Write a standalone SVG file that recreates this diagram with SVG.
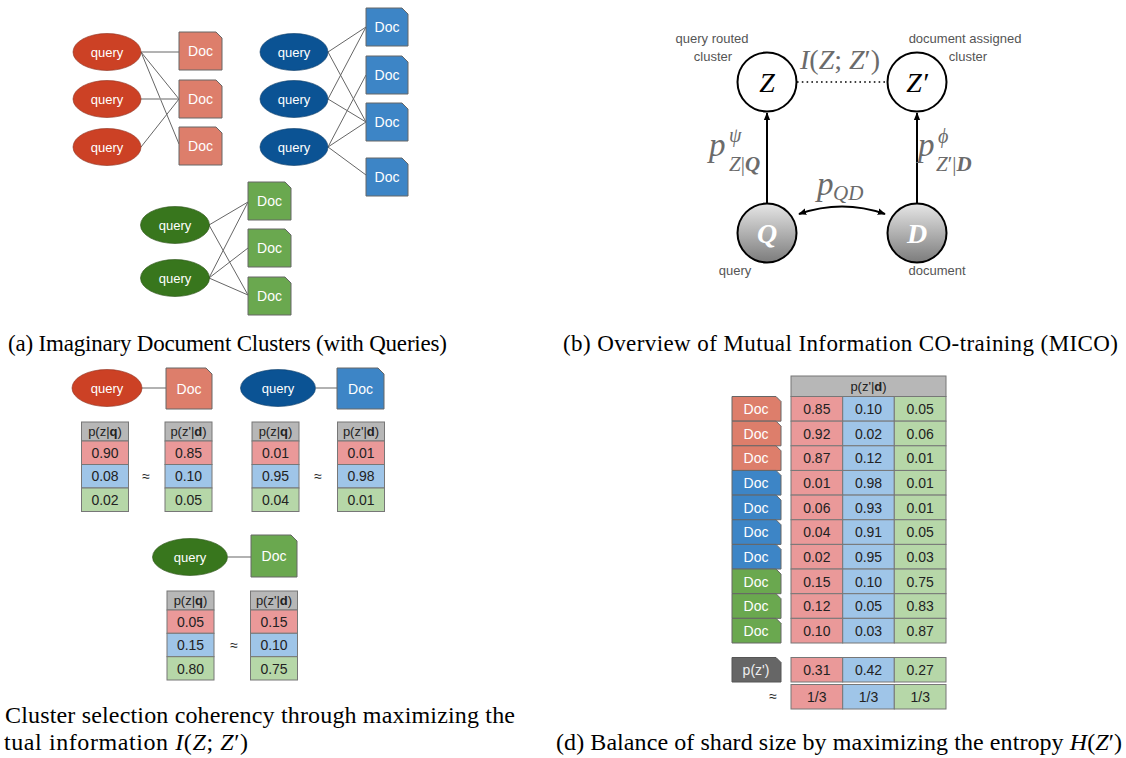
<svg xmlns="http://www.w3.org/2000/svg" width="1126" height="758" viewBox="0 0 1126 758">
<style>
.qt{font-family:"Liberation Sans",Arial,sans-serif;font-size:13px;fill:#fff;text-anchor:middle}
.dt{font-family:"Liberation Sans",Arial,sans-serif;font-size:14px;fill:#fff;text-anchor:middle}
.tv{font-family:"Liberation Sans",Arial,sans-serif;font-size:14px;fill:#222;text-anchor:middle}
.th{font-family:"Liberation Sans",Arial,sans-serif;font-size:13px;fill:#222;text-anchor:middle}
.lb{font-family:"Liberation Sans",Arial,sans-serif;font-size:13px;fill:#555;text-anchor:middle}
.mt{font-family:"Liberation Serif","Times New Roman",serif;fill:#6b6b6b}
.cap{font-family:"Liberation Serif","Times New Roman",serif;font-size:24px;fill:#000}
.rq{fill:#cc4125;stroke:#8a2a18;stroke-width:0.6}
.bq{fill:#0b5394;stroke:#073763;stroke-width:0.6}
.gq{fill:#38761d;stroke:#274e13;stroke-width:0.6}
.rd{fill:#dd7e6b;stroke:#666;stroke-width:1}
.bd{fill:#3d85c6;stroke:#666;stroke-width:1}
.gd{fill:#6aa84f;stroke:#666;stroke-width:1}
.cr{fill:#ea9999;stroke:#777;stroke-width:1}
.cb{fill:#9fc5e8;stroke:#777;stroke-width:1}
.cg{fill:#b6d7a8;stroke:#777;stroke-width:1}
.ch{fill:#b7b7b7;stroke:#777;stroke-width:1}
.ln{stroke:#666;stroke-width:1;fill:none}
.ln2{stroke:#999;stroke-width:1.5;fill:none}
.ax{stroke:#000;stroke-width:2;fill:none}
.it{font-style:italic}
.bi{font-style:italic;font-weight:bold}
</style>
<defs>
<marker id="ah" viewBox="0 0 10 10" refX="9" refY="5" markerWidth="8" markerHeight="8" markerUnits="userSpaceOnUse" orient="auto-start-reverse"><path d="M0,1 L10,5 L0,9 z" fill="#000"/></marker>
<linearGradient id="gr" x1="0" y1="0" x2="0" y2="1"><stop offset="0" stop-color="#e6e6e6"/><stop offset="1" stop-color="#7c7c7c"/></linearGradient>
</defs>

<!-- (a) connectors -->
<g id="connectors-a">
<line class="ln" x1="141" y1="52" x2="179" y2="52"/>
<line class="ln" x1="141" y1="52" x2="179" y2="99"/>
<line class="ln" x1="141" y1="52" x2="179" y2="144"/>
<line class="ln2" x1="141" y1="99" x2="179" y2="99"/>
<line class="ln" x1="141" y1="147" x2="179" y2="99"/>
<line class="ln" x1="328" y1="52" x2="366" y2="27"/>
<line class="ln" x1="328" y1="52" x2="366" y2="122"/>
<line class="ln" x1="328" y1="99" x2="366" y2="27"/>
<line class="ln" x1="328" y1="99" x2="366" y2="122"/>
<line class="ln" x1="328" y1="147" x2="366" y2="75"/>
<line class="ln" x1="328" y1="147" x2="366" y2="122"/>
<line class="ln" x1="328" y1="147" x2="366" y2="175"/>
<line class="ln" x1="209" y1="225" x2="248" y2="202"/>
<line class="ln" x1="209" y1="225" x2="248" y2="295"/>
<line class="ln" x1="209" y1="278" x2="248" y2="202"/>
<line class="ln" x1="209" y1="278" x2="248" y2="248"/>
<line class="ln" x1="209" y1="278" x2="248" y2="295"/>
</g>

<!-- (a) nodes -->
<g id="a-rq1"><ellipse class="rq" cx="107" cy="52" rx="34" ry="18.5"/><text class="qt" x="107" y="56.5">query</text></g>
<g id="a-rq2"><ellipse class="rq" cx="107" cy="99" rx="34" ry="18.5"/><text class="qt" x="107" y="103.5">query</text></g>
<g id="a-rq3"><ellipse class="rq" cx="107" cy="147" rx="34" ry="18.5"/><text class="qt" x="107" y="151.5">query</text></g>
<g id="a-rd1"><path class="rd" d="M179 32 H216 L222 38 V70 H179 Z"/><text class="dt" x="200.5" y="56">Doc</text></g>
<g id="a-rd2"><path class="rd" d="M179 80 H216 L222 86 V118 H179 Z"/><text class="dt" x="200.5" y="104">Doc</text></g>
<g id="a-rd3"><path class="rd" d="M179 127 H216 L222 133 V165 H179 Z"/><text class="dt" x="200.5" y="151">Doc</text></g>

<g id="a-bq1"><ellipse class="bq" cx="294" cy="52" rx="34" ry="18.5"/><text class="qt" x="294" y="56.5">query</text></g>
<g id="a-bq2"><ellipse class="bq" cx="294" cy="99" rx="34" ry="18.5"/><text class="qt" x="294" y="103.5">query</text></g>
<g id="a-bq3"><ellipse class="bq" cx="294" cy="147" rx="34" ry="18.5"/><text class="qt" x="294" y="151.5">query</text></g>
<g id="a-bd1"><path class="bd" d="M366 8 H402 L408 14 V46 H366 Z"/><text class="dt" x="387" y="32">Doc</text></g>
<g id="a-bd2"><path class="bd" d="M366 56 H402 L408 62 V94 H366 Z"/><text class="dt" x="387" y="80">Doc</text></g>
<g id="a-bd3"><path class="bd" d="M366 103 H402 L408 109 V141 H366 Z"/><text class="dt" x="387" y="127">Doc</text></g>
<g id="a-bd4"><path class="bd" d="M366 158 H402 L408 164 V196 H366 Z"/><text class="dt" x="387" y="182">Doc</text></g>

<g id="a-gq1"><ellipse class="gq" cx="175" cy="225" rx="34.5" ry="18.5"/><text class="qt" x="175" y="229.5">query</text></g>
<g id="a-gq2"><ellipse class="gq" cx="175" cy="278" rx="34.5" ry="18.5"/><text class="qt" x="175" y="282.5">query</text></g>
<g id="a-gd1"><path class="gd" d="M248 182 H285 L291 188 V220 H248 Z"/><text class="dt" x="269.5" y="206">Doc</text></g>
<g id="a-gd2"><path class="gd" d="M248 229 H285 L291 235 V267 H248 Z"/><text class="dt" x="269.5" y="253">Doc</text></g>
<g id="a-gd3"><path class="gd" d="M248 277 H285 L291 283 V315 H248 Z"/><text class="dt" x="269.5" y="301">Doc</text></g>

<text class="cap" x="8" y="351" style="font-size:23px" textLength="439" lengthAdjust="spacing">(a) Imaginary Document Clusters (with Queries)</text>

<!-- (b) -->
<g id="connectors-b">
<line x1="797" y1="82" x2="887" y2="82" stroke="#000" stroke-width="1.6" stroke-dasharray="1.6 3.2"/>
<line class="ax" x1="767" y1="203" x2="767" y2="113" marker-end="url(#ah)"/>
<line class="ax" x1="917" y1="203" x2="917" y2="113" marker-end="url(#ah)"/>
<path class="ax" d="M799 214 Q842 199 885 214" marker-start="url(#ah)" marker-end="url(#ah)"/>
</g>
<g id="b-Z"><circle cx="767" cy="82" r="29.5" fill="#fff" stroke="#000" stroke-width="2"/><text x="767" y="92" text-anchor="middle" font-family="Liberation Serif,serif" font-size="28" font-style="italic" fill="#000">Z</text></g>
<g id="b-Zp"><circle cx="917" cy="82" r="29.5" fill="#fff" stroke="#000" stroke-width="2"/><text x="917" y="92" text-anchor="middle" font-family="Liberation Serif,serif" font-size="28" font-style="italic" fill="#000">Z′</text></g>
<g id="b-Q"><circle cx="767" cy="233" r="29.5" fill="url(#gr)" stroke="#000" stroke-width="2"/><text x="767" y="243" text-anchor="middle" font-family="Liberation Serif,serif" font-size="28" font-style="italic" font-weight="bold" fill="#fff">Q</text></g>
<g id="b-D"><circle cx="917" cy="233" r="29.5" fill="url(#gr)" stroke="#000" stroke-width="2"/><text x="917" y="243" text-anchor="middle" font-family="Liberation Serif,serif" font-size="28" font-style="italic" font-weight="bold" fill="#fff">D</text></g>
<g id="b-labels">
<text class="lb" x="712" y="43">query routed</text>
<text class="lb" x="713" y="61">cluster</text>
<text class="lb" x="965" y="43">document assigned</text>
<text class="lb" x="968" y="61">cluster</text>
<text class="lb" x="735" y="275">query</text>
<text class="lb" x="937" y="275">document</text>
<text class="mt" x="800" y="69" font-size="28"><tspan class="it">I</tspan>(<tspan class="it">Z</tspan>; <tspan class="it">Z</tspan>′)</text>
<text class="mt" x="709" y="156" font-size="33"><tspan class="it">p</tspan></text>
<text class="mt" x="729" y="142" font-size="20"><tspan class="it">ψ</tspan></text>
<text class="mt" x="729" y="171" font-size="21"><tspan class="it">Z</tspan>|<tspan class="bi">Q</tspan></text>
<text class="mt" x="918" y="156" font-size="33"><tspan class="it">p</tspan></text>
<text class="mt" x="938" y="143" font-size="20"><tspan class="it">ϕ</tspan></text>
<text class="mt" x="936" y="171" font-size="21"><tspan class="it">Z</tspan>′|<tspan class="bi">D</tspan></text>
<text class="mt" x="817" y="195" font-size="33"><tspan class="it">p</tspan></text>
<text class="mt" x="833" y="200" font-size="21"><tspan class="it">QD</tspan></text>
</g>

<text class="cap" x="563" y="351" style="font-size:23px" textLength="555" lengthAdjust="spacing">(b) Overview of Mutual Information CO-training (MICO)</text>

<!-- (c) -->
<g id="connectors-c">
<line class="ln2" x1="142" y1="388" x2="166" y2="388"/>
<line class="ln2" x1="316" y1="388" x2="337" y2="388"/>
<line class="ln2" x1="228" y1="557" x2="251" y2="557"/>
</g>
<g id="c-rq"><ellipse class="rq" cx="107" cy="388" rx="35" ry="18.5"/><text class="qt" x="107" y="392.5">query</text></g>
<g id="c-rd"><path class="rd" d="M166 368 H206 L212 374 V409 H166 Z"/><text class="dt" x="189" y="393.5">Doc</text></g>
<g id="c-bq"><ellipse class="bq" cx="278" cy="388" rx="37.5" ry="18.5"/><text class="qt" x="278" y="392.5">query</text></g>
<g id="c-bd"><path class="bd" d="M337 368 H378 L384 374 V409 H337 Z"/><text class="dt" x="360.5" y="393.5">Doc</text></g>
<g id="c-gq"><ellipse class="gq" cx="190" cy="557" rx="37.5" ry="18.5"/><text class="qt" x="190" y="561.5">query</text></g>
<g id="c-gd"><path class="gd" d="M251 535 H291 L297 541 V577 H251 Z"/><text class="dt" x="274" y="561">Doc</text></g>

<g id="c-rt1">
<rect class="ch" x="81.5" y="422" width="47" height="19"/><text class="th" x="105" y="436">p(z|<tspan font-weight="bold">q</tspan>)</text>
<rect class="cr" x="81.5" y="441" width="47" height="23.5"/><text class="tv" x="105" y="457.5">0.90</text>
<rect class="cb" x="81.5" y="464.5" width="47" height="23.5"/><text class="tv" x="105" y="481">0.08</text>
<rect class="cg" x="81.5" y="488" width="47" height="23.5"/><text class="tv" x="105" y="504.5">0.02</text>
</g>
<text class="tv" x="146" y="481">≈</text>
<g id="c-rt2">
<rect class="ch" x="165" y="422" width="47" height="19"/><text class="th" x="188.5" y="436">p(z'|<tspan font-weight="bold">d</tspan>)</text>
<rect class="cr" x="165" y="441" width="47" height="23.5"/><text class="tv" x="188.5" y="457.5">0.85</text>
<rect class="cb" x="165" y="464.5" width="47" height="23.5"/><text class="tv" x="188.5" y="481">0.10</text>
<rect class="cg" x="165" y="488" width="47" height="23.5"/><text class="tv" x="188.5" y="504.5">0.05</text>
</g>
<g id="c-bt1">
<rect class="ch" x="252" y="422" width="47" height="19"/><text class="th" x="275.5" y="436">p(z|<tspan font-weight="bold">q</tspan>)</text>
<rect class="cr" x="252" y="441" width="47" height="23.5"/><text class="tv" x="275.5" y="457.5">0.01</text>
<rect class="cb" x="252" y="464.5" width="47" height="23.5"/><text class="tv" x="275.5" y="481">0.95</text>
<rect class="cg" x="252" y="488" width="47" height="23.5"/><text class="tv" x="275.5" y="504.5">0.04</text>
</g>
<text class="tv" x="318" y="481">≈</text>
<g id="c-bt2">
<rect class="ch" x="337.5" y="422" width="47" height="19"/><text class="th" x="361" y="436">p(z'|<tspan font-weight="bold">d</tspan>)</text>
<rect class="cr" x="337.5" y="441" width="47" height="23.5"/><text class="tv" x="361" y="457.5">0.01</text>
<rect class="cb" x="337.5" y="464.5" width="47" height="23.5"/><text class="tv" x="361" y="481">0.98</text>
<rect class="cg" x="337.5" y="488" width="47" height="23.5"/><text class="tv" x="361" y="504.5">0.01</text>
</g>
<g id="c-gt1">
<rect class="ch" x="167" y="591" width="47" height="19"/><text class="th" x="190.5" y="605">p(z|<tspan font-weight="bold">q</tspan>)</text>
<rect class="cr" x="167" y="610" width="47" height="23.3"/><text class="tv" x="190.5" y="626.5">0.05</text>
<rect class="cb" x="167" y="633.3" width="47" height="23.4"/><text class="tv" x="190.5" y="650">0.15</text>
<rect class="cg" x="167" y="656.7" width="47" height="23.3"/><text class="tv" x="190.5" y="673.5">0.80</text>
</g>
<text class="tv" x="234" y="650">≈</text>
<g id="c-gt2">
<rect class="ch" x="250.5" y="591" width="47" height="19"/><text class="th" x="274" y="605">p(z'|<tspan font-weight="bold">d</tspan>)</text>
<rect class="cr" x="250.5" y="610" width="47" height="23.3"/><text class="tv" x="274" y="626.5">0.15</text>
<rect class="cb" x="250.5" y="633.3" width="47" height="23.4"/><text class="tv" x="274" y="650">0.10</text>
<rect class="cg" x="250.5" y="656.7" width="47" height="23.3"/><text class="tv" x="274" y="673.5">0.75</text>
</g>

<text class="cap" x="5" y="723" textLength="510" lengthAdjust="spacing">Cluster selection coherency through maximizing the</text>
<text class="cap" x="4" y="750" textLength="244" lengthAdjust="spacing">tual information <tspan class="it">I</tspan>(<tspan class="it">Z</tspan>; <tspan class="it">Z</tspan>′)</text>

<!-- (d) -->
<g id="d-table">
<rect class="ch" x="791" y="376" width="155" height="20.5"/><text class="th" x="868.5" y="391">p(z'|<tspan font-weight="bold">d</tspan>)</text>
</g>
<g id="d-rows">
<g id="d-r0"><path class="rd" d="M732 396.5 H776 L781 401.5 V421.15 H732 Z"/><text class="dt" x="756" y="414">Doc</text>
<rect class="cr" x="791" y="396.5" width="51.7" height="24.65"/><rect class="cb" x="842.7" y="396.5" width="51.6" height="24.65"/><rect class="cg" x="894.3" y="396.5" width="51.7" height="24.65"/>
<text class="tv" x="816.8" y="414">0.85</text><text class="tv" x="868.5" y="414">0.10</text><text class="tv" x="920.2" y="414">0.05</text></g>
<g id="d-r1"><path class="rd" d="M732 421.15 H776 L781 426.15 V445.8 H732 Z"/><text class="dt" x="756" y="438.65">Doc</text>
<rect class="cr" x="791" y="421.15" width="51.7" height="24.65"/><rect class="cb" x="842.7" y="421.15" width="51.6" height="24.65"/><rect class="cg" x="894.3" y="421.15" width="51.7" height="24.65"/>
<text class="tv" x="816.8" y="438.65">0.92</text><text class="tv" x="868.5" y="438.65">0.02</text><text class="tv" x="920.2" y="438.65">0.06</text></g>
<g id="d-r2"><path class="rd" d="M732 445.8 H776 L781 450.8 V470.45 H732 Z"/><text class="dt" x="756" y="463.3">Doc</text>
<rect class="cr" x="791" y="445.8" width="51.7" height="24.65"/><rect class="cb" x="842.7" y="445.8" width="51.6" height="24.65"/><rect class="cg" x="894.3" y="445.8" width="51.7" height="24.65"/>
<text class="tv" x="816.8" y="463.3">0.87</text><text class="tv" x="868.5" y="463.3">0.12</text><text class="tv" x="920.2" y="463.3">0.01</text></g>
<g id="d-r3"><path class="bd" d="M732 470.45 H776 L781 475.45 V495.1 H732 Z"/><text class="dt" x="756" y="488">Doc</text>
<rect class="cr" x="791" y="470.45" width="51.7" height="24.65"/><rect class="cb" x="842.7" y="470.45" width="51.6" height="24.65"/><rect class="cg" x="894.3" y="470.45" width="51.7" height="24.65"/>
<text class="tv" x="816.8" y="488">0.01</text><text class="tv" x="868.5" y="488">0.98</text><text class="tv" x="920.2" y="488">0.01</text></g>
<g id="d-r4"><path class="bd" d="M732 495.1 H776 L781 500.1 V519.75 H732 Z"/><text class="dt" x="756" y="512.6">Doc</text>
<rect class="cr" x="791" y="495.1" width="51.7" height="24.65"/><rect class="cb" x="842.7" y="495.1" width="51.6" height="24.65"/><rect class="cg" x="894.3" y="495.1" width="51.7" height="24.65"/>
<text class="tv" x="816.8" y="512.6">0.06</text><text class="tv" x="868.5" y="512.6">0.93</text><text class="tv" x="920.2" y="512.6">0.01</text></g>
<g id="d-r5"><path class="bd" d="M732 519.75 H776 L781 524.75 V544.4 H732 Z"/><text class="dt" x="756" y="537.25">Doc</text>
<rect class="cr" x="791" y="519.75" width="51.7" height="24.65"/><rect class="cb" x="842.7" y="519.75" width="51.6" height="24.65"/><rect class="cg" x="894.3" y="519.75" width="51.7" height="24.65"/>
<text class="tv" x="816.8" y="537.25">0.04</text><text class="tv" x="868.5" y="537.25">0.91</text><text class="tv" x="920.2" y="537.25">0.05</text></g>
<g id="d-r6"><path class="bd" d="M732 544.4 H776 L781 549.4 V569.05 H732 Z"/><text class="dt" x="756" y="561.9">Doc</text>
<rect class="cr" x="791" y="544.4" width="51.7" height="24.65"/><rect class="cb" x="842.7" y="544.4" width="51.6" height="24.65"/><rect class="cg" x="894.3" y="544.4" width="51.7" height="24.65"/>
<text class="tv" x="816.8" y="561.9">0.02</text><text class="tv" x="868.5" y="561.9">0.95</text><text class="tv" x="920.2" y="561.9">0.03</text></g>
<g id="d-r7"><path class="gd" d="M732 569.05 H776 L781 574.05 V593.7 H732 Z"/><text class="dt" x="756" y="586.55">Doc</text>
<rect class="cr" x="791" y="569.05" width="51.7" height="24.65"/><rect class="cb" x="842.7" y="569.05" width="51.6" height="24.65"/><rect class="cg" x="894.3" y="569.05" width="51.7" height="24.65"/>
<text class="tv" x="816.8" y="586.55">0.15</text><text class="tv" x="868.5" y="586.55">0.10</text><text class="tv" x="920.2" y="586.55">0.75</text></g>
<g id="d-r8"><path class="gd" d="M732 593.7 H776 L781 598.7 V618.35 H732 Z"/><text class="dt" x="756" y="611.2">Doc</text>
<rect class="cr" x="791" y="593.7" width="51.7" height="24.65"/><rect class="cb" x="842.7" y="593.7" width="51.6" height="24.65"/><rect class="cg" x="894.3" y="593.7" width="51.7" height="24.65"/>
<text class="tv" x="816.8" y="611.2">0.12</text><text class="tv" x="868.5" y="611.2">0.05</text><text class="tv" x="920.2" y="611.2">0.83</text></g>
<g id="d-r9"><path class="gd" d="M732 618.35 H776 L781 623.35 V643 H732 Z"/><text class="dt" x="756" y="635.85">Doc</text>
<rect class="cr" x="791" y="618.35" width="51.7" height="24.65"/><rect class="cb" x="842.7" y="618.35" width="51.6" height="24.65"/><rect class="cg" x="894.3" y="618.35" width="51.7" height="24.65"/>
<text class="tv" x="816.8" y="635.85">0.10</text><text class="tv" x="868.5" y="635.85">0.03</text><text class="tv" x="920.2" y="635.85">0.87</text></g>
</g>
<g id="d-pz">
<path d="M732 657.5 H776 L781 662.5 V682 H732 Z" fill="#666" stroke="#555" stroke-width="1"/><text class="dt" x="756" y="674.5" style="fill:#eee">p(z')</text>
<rect class="cr" x="791" y="657.5" width="51.7" height="24.5"/><rect class="cb" x="842.7" y="657.5" width="51.6" height="24.5"/><rect class="cg" x="894.3" y="657.5" width="51.7" height="24.5"/>
<text class="tv" x="816.8" y="674.5">0.31</text><text class="tv" x="868.5" y="674.5">0.42</text><text class="tv" x="920.2" y="674.5">0.27</text>
</g>
<g id="d-approx">
<text class="tv" x="773" y="701">≈</text>
<rect class="cr" x="791" y="684.5" width="51.7" height="24.5"/><rect class="cb" x="842.7" y="684.5" width="51.6" height="24.5"/><rect class="cg" x="894.3" y="684.5" width="51.7" height="24.5"/>
<text class="tv" x="816.8" y="701.5">1/3</text><text class="tv" x="868.5" y="701.5">1/3</text><text class="tv" x="920.2" y="701.5">1/3</text>
</g>

<text class="cap" x="556" y="750" textLength="566" lengthAdjust="spacing">(d) Balance of shard size by maximizing the entropy <tspan class="it">H</tspan>(<tspan class="it">Z</tspan>′)</text>
</svg>
